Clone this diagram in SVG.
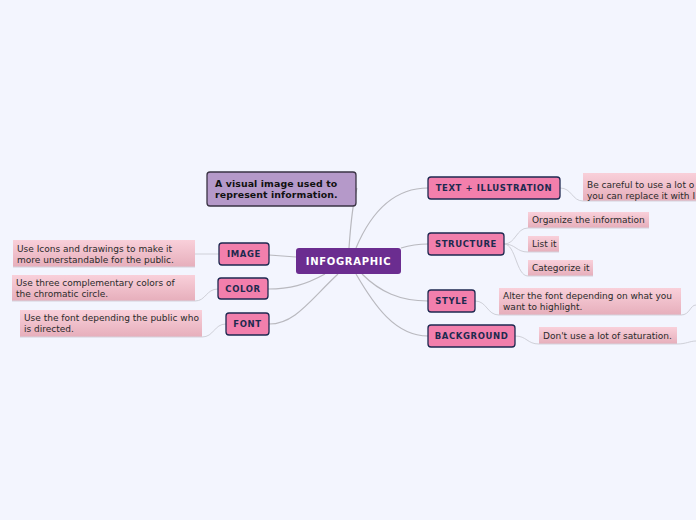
<svg xmlns="http://www.w3.org/2000/svg" width="696" height="520" viewBox="0 0 696 520">
<defs>
<linearGradient id="leafg" x1="0" y1="0" x2="0" y2="1">
<stop offset="0" stop-color="#f9d0da"/>
<stop offset="1" stop-color="#e6aebb"/>
</linearGradient>
<style>
.conn{fill:none;stroke:#b9b9bf;stroke-width:1.2}
.sub{fill:none;stroke:#cfd0d8;stroke-width:1}
.main rect{fill:#f27fac;stroke:#1e2850;stroke-width:1.3}
.main text{font-family:"DejaVu Sans",Verdana,sans-serif;font-size:8.5px;font-weight:bold;fill:#1d2a4f;text-anchor:middle;letter-spacing:0.6px}
.leaf rect{fill:url(#leafg)}
.leaf line{stroke:#d4d2dc;stroke-width:1}
.leaf text{font-family:"DejaVu Sans",Verdana,sans-serif;font-size:9px;fill:#2a2a2a}
</style>
</defs>
<rect width="696" height="520" fill="#f3f5fe"/>
<g id="connectors">
<path class="conn" d="M349,248 Q352,205 357,188"/>
<path class="conn" d="M356,248 C372,210 395,188 428,188"/>
<path class="conn" d="M401,248 Q414,244 428,244"/>
<path class="conn" d="M362,274 C380,292 400,301 428,301"/>
<path class="conn" d="M356,274 C374,305 395,336 428,336"/>
<path class="conn" d="M296,257 L269,255"/>
<path class="conn" d="M325,274 C305,285 290,289 268,289"/>
<path class="conn" d="M338,274 C310,300 295,324 269,324"/>
<path class="sub" d="M560,188 C572,188 572,201 583,201"/>
<path class="sub" d="M504,244 C516,244 516,228 528,228"/>
<path class="sub" d="M504,244 C516,244 516,252 528,252"/>
<path class="sub" d="M504,244 C516,244 516,276 528,276"/>
<path class="sub" d="M475,301 C487,301 487,315 499,315"/>
<path class="sub" d="M515,336 C527,336 527,344 539,344"/>
<path class="sub" d="M681,315 C690,315 690,305 696,305"/>
<path class="sub" d="M677,344 C686,344 690,341 696,341"/>
<path class="sub" d="M219,254 L195,254"/>
<path class="sub" d="M218,289 C206,289 206,301 195,301"/>
<path class="sub" d="M226,324 C214,324 214,337 202,337"/>
</g>
<g id="infographic">
<rect x="296" y="248" width="105" height="26" rx="3" fill="#6b2d90"/>
<text x="348.5" y="265" font-family="DejaVu Sans,Verdana,sans-serif" font-size="10" font-weight="bold" fill="#ffffff" text-anchor="middle" letter-spacing="0.7">INFOGRAPHIC</text>
</g>
<g id="definition">
<rect x="207" y="172" width="149" height="34" rx="3" fill="#b599c9" stroke="#3a3344" stroke-width="1.3"/>
<text font-family="DejaVu Sans,Verdana,sans-serif" font-size="9.4" font-weight="bold" fill="#111" letter-spacing="0.1"><tspan x="215" y="187">A visual image used to</tspan><tspan x="215" y="198">represent information.</tspan></text>
</g>
<g id="text-illustration" class="main">
<rect x="428" y="177" width="132" height="22" rx="3"/>
<text x="494" y="191">TEXT + ILLUSTRATION</text>
</g>
<g id="structure" class="main">
<rect x="428" y="233" width="76" height="22" rx="3"/>
<text x="466" y="247">STRUCTURE</text>
</g>
<g id="style" class="main">
<rect x="428" y="290" width="47" height="22" rx="3"/>
<text x="451.5" y="304">STYLE</text>
</g>
<g id="background" class="main">
<rect x="428" y="325" width="87" height="22" rx="3"/>
<text x="471.5" y="339">BACKGROUND</text>
</g>
<g id="image" class="main">
<rect x="219" y="243" width="50" height="22" rx="3"/>
<text x="244" y="257">IMAGE</text>
</g>
<g id="color" class="main">
<rect x="218" y="278" width="50" height="21" rx="3"/>
<text x="243" y="292">COLOR</text>
</g>
<g id="font" class="main">
<rect x="226" y="313" width="43" height="22" rx="3"/>
<text x="247.5" y="327">FONT</text>
</g>
<g id="leaf-careful" class="leaf">
<rect x="583" y="173" width="120" height="28"/>
<line x1="583" y1="201" x2="696" y2="201"/>
<text><tspan x="587" y="188">Be careful to use a lot o</tspan><tspan x="587" y="199">you can replace it with I</tspan></text>
</g>
<g id="leaf-organize" class="leaf">
<rect x="528" y="212" width="121" height="16"/>
<line x1="528" y1="228" x2="649" y2="228"/>
<text x="532" y="223">Organize the information</text>
</g>
<g id="leaf-list" class="leaf">
<rect x="528" y="236" width="31" height="16"/>
<line x1="528" y1="252" x2="559" y2="252"/>
<text x="532" y="247">List it</text>
</g>
<g id="leaf-categorize" class="leaf">
<rect x="528" y="260" width="65" height="16"/>
<line x1="528" y1="276" x2="593" y2="276"/>
<text x="532" y="271">Categorize it</text>
</g>
<g id="leaf-alter" class="leaf">
<rect x="499" y="288" width="182" height="27"/>
<line x1="499" y1="315" x2="681" y2="315"/>
<text><tspan x="503" y="299">Alter the font depending on what you</tspan><tspan x="503" y="310">want to highlight.</tspan></text>
</g>
<g id="leaf-saturation" class="leaf">
<rect x="539" y="327" width="138" height="17"/>
<line x1="539" y1="344" x2="677" y2="344"/>
<text x="543" y="339">Don't use a lot of saturation.</text>
</g>
<g id="leaf-icons" class="leaf">
<rect x="13" y="240" width="182" height="27"/>
<line x1="13" y1="267" x2="195" y2="267"/>
<text><tspan x="17" y="252">Use Icons and drawings to make it</tspan><tspan x="17" y="263">more unerstandable for the public.</tspan></text>
</g>
<g id="leaf-colors" class="leaf">
<rect x="12" y="275" width="183" height="26"/>
<line x1="12" y1="301" x2="195" y2="301"/>
<text><tspan x="16" y="286">Use three complementary colors of</tspan><tspan x="16" y="297">the chromatic circle.</tspan></text>
</g>
<g id="leaf-public" class="leaf">
<rect x="20" y="310" width="182" height="27"/>
<line x1="20" y1="337" x2="202" y2="337"/>
<text><tspan x="24" y="321">Use the font depending the public who</tspan><tspan x="24" y="332">is directed.</tspan></text>
</g>
</svg>
